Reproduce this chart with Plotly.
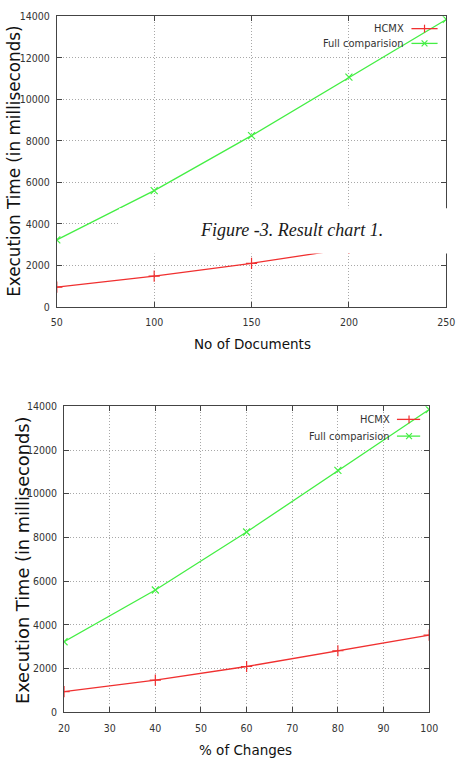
import plotly.graph_objects as go

# ---- data ----
docs = [50, 100, 150, 200, 250]
changes = [20, 40, 60, 80, 100]
hcmx_docs = [950, 1480, 2100, 2820, 3530]
full_docs = [3230, 5600, 8250, 11070, 13850]
hcmx_changes = [950, 1480, 2100, 2820, 3530]
full_changes = [3230, 5600, 8250, 11070, 13850]
y_ticks = [0, 2000, 4000, 6000, 8000, 10000, 12000, 14000]
x_ticks_docs = [50, 100, 150, 200, 250]
x_ticks_changes = [20, 30, 40, 50, 60, 70, 80, 90, 100]
series_names = ["HCMX", "Full comparision"]

W, H = 464, 762
RED = "#f03030"
GREEN = "#44ee44"
TICKFONT = dict(family="Liberation Sans Narrow, DejaVu Sans Condensed, Arial Narrow, Liberation Sans, sans-serif",
                size=10.5, color="#333333")
TITLEFONT = dict(family="DejaVu Sans, Verdana, sans-serif", color="#111111")


def px(x):
    return x / W


def py(y):
    return 1 - y / H


fig = go.Figure()

# top chart
fig.add_trace(go.Scatter(x=docs, y=hcmx_docs, mode="lines+markers", name=series_names[0],
                         line=dict(color=RED, width=1.3),
                         marker=dict(symbol="cross-thin-open", size=8, line=dict(color=RED, width=1.2)),
                         xaxis="x", yaxis="y", showlegend=False))
fig.add_trace(go.Scatter(x=docs, y=full_docs, mode="lines+markers", name=series_names[1],
                         line=dict(color=GREEN, width=1.3),
                         marker=dict(symbol="x-thin-open", size=7, line=dict(color=GREEN, width=1.2)),
                         xaxis="x", yaxis="y", showlegend=False))
# bottom chart
fig.add_trace(go.Scatter(x=changes, y=hcmx_changes, mode="lines+markers", name=series_names[0],
                         line=dict(color=RED, width=1.3),
                         marker=dict(symbol="cross-thin-open", size=8, line=dict(color=RED, width=1.2)),
                         xaxis="x2", yaxis="y2", showlegend=False))
fig.add_trace(go.Scatter(x=changes, y=full_changes, mode="lines+markers", name=series_names[1],
                         line=dict(color=GREEN, width=1.3),
                         marker=dict(symbol="x-thin-open", size=7, line=dict(color=GREEN, width=1.2)),
                         xaxis="x2", yaxis="y2", showlegend=False))

axis_common = dict(showline=True, linecolor="#444444", linewidth=1, mirror="allticks",
                   ticks="inside", ticklen=5, tickcolor="#444444", tickwidth=1,
                   showgrid=True, gridcolor="#a8a8a8", griddash="1px,2px", gridwidth=1,
                   zeroline=False, tickfont=TICKFONT, fixedrange=True)

fig.update_layout(
    width=W, height=H, margin=dict(l=0, r=0, t=0, b=0),
    paper_bgcolor="white", plot_bgcolor="white", showlegend=False,
    xaxis=dict(domain=[px(52.5), px(455)], range=[50, 250], tickvals=x_ticks_docs,
               anchor="y", ticklabelstandoff=6, **axis_common),
    yaxis=dict(domain=[py(305.7), py(10.5)], range=[0, 14000], tickvals=y_ticks, tickformat="d",
               anchor="x", ticklabelstandoff=4, **axis_common),
    xaxis2=dict(domain=[px(60), px(437.3)], range=[20, 100], tickvals=x_ticks_changes,
                anchor="y2", ticklabelstandoff=6, **axis_common),
    yaxis2=dict(domain=[py(717.7), py(406.7)], range=[0, 14000], tickvals=y_ticks, tickformat="d",
                anchor="x2", ticklabelstandoff=4, **axis_common),
)

annotations = []
# axis titles
annotations.append(dict(text="Execution Time (in milliseconds)", textangle=-90, x=px(8), y=py(157.5),
                         xref="paper", yref="paper", showarrow=False, xanchor="center", yanchor="middle",
                         font=dict(size=16.8, **TITLEFONT)))
annotations.append(dict(text="Execution Time (in milliseconds)", textangle=-90, x=px(17), y=py(562.5),
                         xref="paper", yref="paper", showarrow=False, xanchor="center", yanchor="middle",
                         font=dict(size=17.8, **TITLEFONT)))
annotations.append(dict(text="No of Documents", x=px(255), y=py(343), xref="paper", yref="paper",
                         showarrow=False, xanchor="center", yanchor="middle",
                         font=dict(size=13.5, **TITLEFONT)))
annotations.append(dict(text="% of Changes", x=px(247), y=py(756), xref="paper", yref="paper",
                         showarrow=False, xanchor="center", yanchor="middle",
                         font=dict(size=13.5, **TITLEFONT)))

LEGFONT = dict(family=TICKFONT["family"], size=11, color="#333333")
shapes = []


def add_legend(text_right, line_x0, line_x1, mark_x, y_rows):
    colors = [RED, GREEN]
    for i, (name, yy) in enumerate(zip(series_names, y_rows)):
        annotations.append(dict(text=name, x=px(text_right), y=py(yy), xref="paper", yref="paper",
                                showarrow=False, xanchor="right", yanchor="middle", font=LEGFONT))
        shapes.append(dict(type="line", xref="paper", yref="paper", x0=px(line_x0), x1=px(line_x1),
                           y0=py(yy), y1=py(yy), line=dict(color=colors[i], width=1.3)))
        s = 3.5
        if i == 0:
            shapes.append(dict(type="line", xref="paper", yref="paper", x0=px(mark_x), x1=px(mark_x),
                               y0=py(yy - s - 0.5), y1=py(yy + s + 0.5), line=dict(color=colors[i], width=1.2)))
        else:
            shapes.append(dict(type="line", xref="paper", yref="paper", x0=px(mark_x - s + 0.5), x1=px(mark_x + s - 0.5),
                               y0=py(yy - s + 0.5), y1=py(yy + s - 0.5), line=dict(color=colors[i], width=1.2)))
            shapes.append(dict(type="line", xref="paper", yref="paper", x0=px(mark_x - s + 0.5), x1=px(mark_x + s - 0.5),
                               y0=py(yy + s - 0.5), y1=py(yy - s + 0.5), line=dict(color=colors[i], width=1.2)))


add_legend(413, 419, 446, 432.5, [23, 38])
add_legend(399, 404, 428, 416.5, [420, 437])

# caption box overlapping the top chart
shapes.append(dict(type="rect", xref="paper", yref="paper", x0=px(117), x1=px(464),
                   y0=py(251.5), y1=py(205.5), fillcolor="white", line=dict(width=0), layer="above"))
annotations.append(dict(text="<i>Figure -3. Result chart 1.</i>", x=px(295), y=py(228), xref="paper", yref="paper",
                         showarrow=False, xanchor="center", yanchor="middle",
                         font=dict(family="Liberation Serif, Times New Roman, serif", size=18, color="#1a1a1a")))

fig.update_layout(annotations=annotations, shapes=shapes)
fig.write_html("out.html")
